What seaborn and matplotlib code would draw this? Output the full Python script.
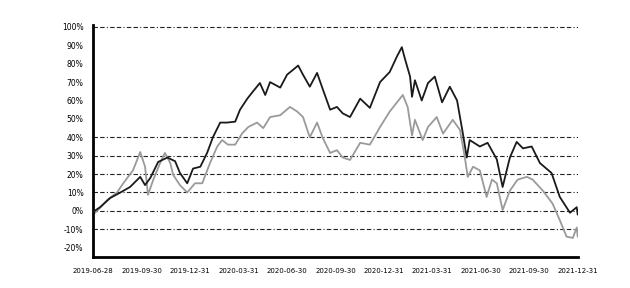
import matplotlib
matplotlib.use("Agg")
import matplotlib.pyplot as plt
import seaborn as sns
import pandas as pd

# x in tick-interval units (0..10), y in %
fund_x = [0.00, 0.14, 0.35, 0.56, 0.76, 0.97, 1.07, 1.18, 1.34, 1.53, 1.69, 1.79, 1.94, 2.06,
          2.21, 2.35, 2.47, 2.62, 2.76, 2.93, 3.03, 3.18, 3.30, 3.44, 3.55, 3.65, 3.86, 4.00,
          4.12, 4.23, 4.33, 4.47, 4.62, 4.74, 4.89, 5.03, 5.15, 5.30, 5.51, 5.71, 5.92, 6.12,
          6.27, 6.37, 6.43, 6.54, 6.58, 6.64, 6.78, 6.91, 7.05, 7.20, 7.36, 7.51, 7.63, 7.71,
          7.77, 7.98, 8.14, 8.33, 8.45, 8.60, 8.74, 8.87, 9.05, 9.22, 9.46, 9.63, 9.84, 9.98, 10.00]
fund_y = [-0.5, 2, 7, 10, 13, 18.5, 14, 18, 26.6, 29, 27, 20.6, 15, 23,
          24, 31.5, 40, 48, 48, 48.5, 55, 61, 65, 69.5, 63, 70, 67, 74,
          76.6, 79, 74, 67.5, 75, 66, 55, 56.5, 53, 51, 61, 56, 70, 75.5,
          84, 89, 83, 73, 62, 71, 60, 69.5, 73, 59, 67.5, 60, 42, 29,
          38.5, 35, 37, 28, 13, 29, 37.5, 34, 35, 26, 20.6, 7.6, -1, 2, -2]

bench_x = [0.00, 0.14, 0.29, 0.49, 0.62, 0.82, 0.97, 1.07, 1.13, 1.24, 1.38, 1.48, 1.59, 1.65,
           1.79, 1.94, 2.10, 2.25, 2.41, 2.56, 2.66, 2.78, 2.93, 3.07, 3.20, 3.38, 3.51, 3.65,
           3.86, 4.06, 4.21, 4.33, 4.47, 4.62, 4.74, 4.89, 5.03, 5.15, 5.30, 5.51, 5.71, 5.92,
           6.12, 6.27, 6.39, 6.49, 6.58, 6.64, 6.80, 6.91, 7.09, 7.22, 7.42, 7.57, 7.67, 7.73,
           7.84, 7.98, 8.12, 8.23, 8.33, 8.45, 8.60, 8.76, 8.95, 9.07, 9.28, 9.48, 9.63, 9.77,
           9.90, 9.98, 10.00]
bench_y = [-2, 1.6, 6, 10, 15, 22, 32, 24, 8.7, 17, 26, 31.5, 26, 19.6,
           14, 10, 15, 15, 26, 35, 38.5, 36, 36, 42, 45.6, 48, 45, 51,
           52, 56.5, 54, 51, 40, 48, 39.5, 31.5, 33, 29, 27.7, 37, 36, 45.6,
           54, 59, 63, 56.5, 41, 49.5, 38.5, 45.6, 51, 42, 49.5, 44, 29, 18.5,
           24, 22, 7.6, 17, 15, 0.5, 11, 17, 18.5, 17, 11, 4, -5, -14,
           -14.7, -9, -14]

x_ticks = list(range(11))
x_labels = ["2019-06-28", "2019-09-30", "2019-12-31", "2020-03-31", "2020-06-30",
            "2020-09-30", "2020-12-31", "2021-03-31", "2021-06-30", "2021-09-30", "2021-12-31"]
y_ticks = [100, 90, 80, 70, 60, 50, 40, 30, 20, 10, 0, -10, -20]
grid_levels = [100, 40, 30, 20, 10, 0, -10]

sns.set_style("white")
plt.rcParams['font.family'] = ['DejaVu Sans']

fig = plt.figure(figsize=(6.3, 2.88), dpi=100)
ax = fig.add_axes([0.148, 0.108, 0.769, 0.805])

for lv in grid_levels:
    ax.axhline(lv, color="#222222", lw=0.8, linestyle=(0, (4, 2, 4, 2, 1, 2)), zorder=1)

df_b = pd.DataFrame({"x": bench_x, "y": bench_y})
df_f = pd.DataFrame({"x": fund_x, "y": fund_y})
sns.lineplot(data=df_b, x="x", y="y", ax=ax, color="#9a9a9a", lw=1.3, sort=False, zorder=2)
sns.lineplot(data=df_f, x="x", y="y", ax=ax, color="#1a1a1a", lw=1.3, sort=False, zorder=3)

ax.set_xlim(0, 10)
ax.set_ylim(-25, 101)
ax.set_xticks(x_ticks)
ax.set_xticklabels(x_labels, fontsize=5)
ax.set_yticks(y_ticks)
ax.set_yticklabels([f"{v}%" for v in y_ticks], fontsize=5.5)
ax.set_xlabel("")
ax.set_ylabel("")
ax.tick_params(axis="x", direction="in", length=3, width=1, pad=8, colors="black")
ax.tick_params(axis="y", length=0, pad=7, colors="black")
for s in ["top", "right"]:
    ax.spines[s].set_visible(False)
for s in ["left", "bottom"]:
    ax.spines[s].set_linewidth(2)
    ax.spines[s].set_color("black")

fig.savefig("out.png", dpi=100)
